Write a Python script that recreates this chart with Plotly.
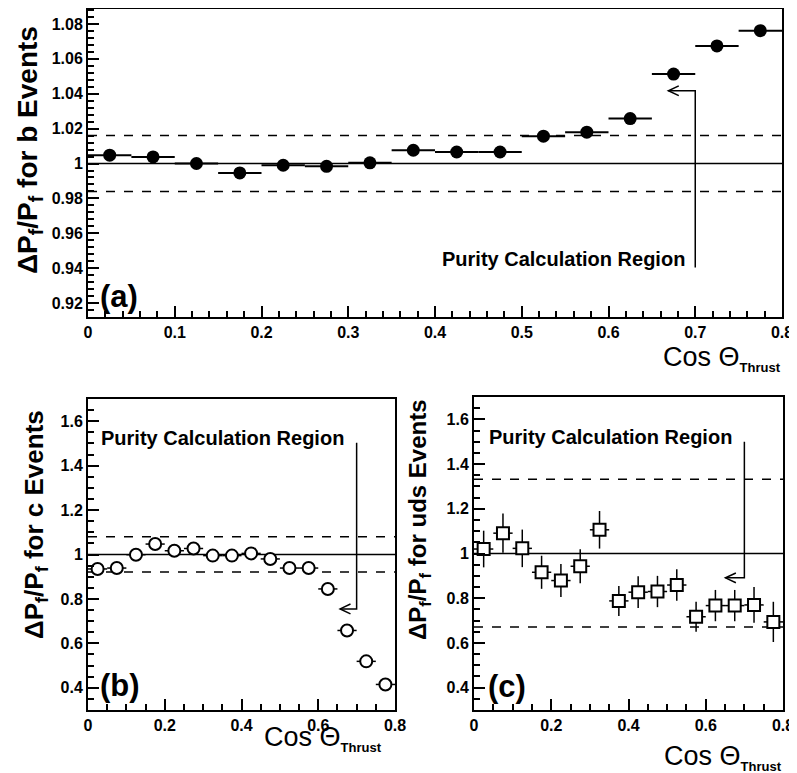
import plotly.graph_objects as go

# ---------------- data ----------------
bin_centers = [0.025, 0.075, 0.125, 0.175, 0.225, 0.275, 0.325, 0.375,
               0.425, 0.475, 0.525, 0.575, 0.625, 0.675, 0.725, 0.775]
bin_halfwidth = 0.025

b_values = [1.0048, 1.0038, 1.0000, 0.9946, 0.9990, 0.9984, 1.0004, 1.0076,
            1.0066, 1.0066, 1.0157, 1.0180, 1.0258, 1.0513, 1.0674, 1.0762]
c_values = [0.935, 0.939, 0.999, 1.047, 1.017, 1.027, 0.995, 0.995,
            1.005, 0.980, 0.939, 0.939, 0.845, 0.658, 0.519, 0.415]
uds_values = [1.020, 1.091, 1.023, 0.916, 0.879, 0.943, 1.106, 0.788,
              0.827, 0.830, 0.859, 0.717, 0.767, 0.767, 0.770, 0.694]
uds_errors = [0.082, 0.088, 0.084, 0.074, 0.074, 0.076, 0.084, 0.067,
              0.071, 0.070, 0.070, 0.067, 0.070, 0.070, 0.080, 0.090]

# reference line and +/- band per panel
ref_level = 1.0
b_band = [0.984, 1.016]
c_band = [0.921, 1.080]
uds_band = [0.671, 1.332]

# "Purity Calculation Region" arrow: x of vertical line, y start, y end, arrow tip x
b_arrow = [0.70, 0.9404, 1.0417, 0.669]
c_arrow = [0.70, 1.503, 0.755, 0.657]
uds_arrow = [0.70, 1.500, 0.891, 0.651]

a_yticks = [0.92, 0.94, 0.96, 0.98, 1.00, 1.02, 1.04, 1.06, 1.08]
a_yticktext = ["0.92", "0.94", "0.96", "0.98", "1", "1.02", "1.04", "1.06", "1.08"]
a_xticks = [0, 0.1, 0.2, 0.3, 0.4, 0.5, 0.6, 0.7, 0.8]
a_xticktext = ["0", "0.1", "0.2", "0.3", "0.4", "0.5", "0.6", "0.7", "0.8"]
bc_yticks = [0.4, 0.6, 0.8, 1.0, 1.2, 1.4, 1.6]
bc_yticktext = ["0.4", "0.6", "0.8", "1", "1.2", "1.4", "1.6"]
bc_xticks = [0, 0.2, 0.4, 0.6, 0.8]
bc_xticktext = ["0", "0.2", "0.4", "0.6", "0.8"]

W, H = 797, 773
OFF = 8  # page body margin around the figure
FONT = "Liberation Sans"

def px_x(p):
    return (p - OFF) / W

def px_y(p):
    return 1 - (p - OFF) / H

fig = go.Figure()

# panel (a): b events
fig.add_trace(go.Scatter(
    x=bin_centers, y=b_values, mode="markers",
    marker=dict(symbol="circle", size=13, color="black"),
    error_x=dict(type="constant", value=bin_halfwidth, width=0, thickness=2, color="black"),
    xaxis="x", yaxis="y", showlegend=False))

# panel (b): c events
fig.add_trace(go.Scatter(
    x=bin_centers, y=c_values, mode="markers",
    marker=dict(symbol="circle", size=12, color="white", line=dict(color="black", width=2)),
    error_x=dict(type="constant", value=bin_halfwidth, width=0, thickness=1.5, color="black"),
    xaxis="x2", yaxis="y2", showlegend=False))

# panel (c): uds events
fig.add_trace(go.Scatter(
    x=bin_centers, y=uds_values, mode="markers",
    marker=dict(symbol="square", size=12, color="white", line=dict(color="black", width=2)),
    error_x=dict(type="constant", value=bin_halfwidth, width=0, thickness=1.5, color="black"),
    error_y=dict(type="data", array=uds_errors, width=0, thickness=1.5, color="black"),
    xaxis="x3", yaxis="y3", showlegend=False))

shapes = []

def add_lines(xref, yref, band):
    shapes.append(dict(type="line", xref=xref + " domain", yref=yref, x0=0, x1=1,
                       y0=ref_level, y1=ref_level, line=dict(color="black", width=1.5), layer="below"))
    for v in band:
        shapes.append(dict(type="line", xref=xref + " domain", yref=yref, x0=0, x1=1,
                           y0=v, y1=v, line=dict(color="black", width=1.5, dash="dash"), layer="below"))

def add_arrow(xref, yref, arrow, hx, hy):
    xl, ys, ye, xt = arrow
    shapes.append(dict(type="path", xref=xref, yref=yref,
                       path=f"M {xl},{ys} L {xl},{ye} L {xt},{ye}",
                       line=dict(color="black", width=1.5)))
    shapes.append(dict(type="path", xref=xref, yref=yref,
                       path=f"M {xt+hx},{ye+hy} L {xt},{ye} L {xt+hx},{ye-hy}",
                       line=dict(color="black", width=1.5)))

add_lines("x", "y", b_band)
add_lines("x2", "y2", c_band)
add_lines("x3", "y3", uds_band)
add_arrow("x", "y", b_arrow, 0.012, 0.0028)
add_arrow("x2", "y2", c_arrow, 0.027, 0.022)
add_arrow("x3", "y3", uds_arrow, 0.027, 0.022)

annotations = []

def text(x, y, s, size, xref="paper", yref="paper", xanchor="center", yanchor="middle",
         angle=0, weight="bold"):
    annotations.append(dict(x=x, y=y, xref=xref, yref=yref, text=s, showarrow=False,
                            xanchor=xanchor, yanchor=yanchor, textangle=angle,
                            font=dict(family=FONT, size=size, color="black", weight=weight)))

# purity text
text(0.690, 0.9455, "Purity Calculation Region", 20, "x", "y", xanchor="right")
text(0.029, 1.525, "Purity Calculation Region", 20, "x2", "y2", xanchor="left")
text(0.033, 1.523, "Purity Calculation Region", 20, "x3", "y3", xanchor="left")

# panel labels
text(0.011, 0.9238, "(a)", 31, "x", "y", xanchor="left")
text(0.027, 0.412, "(b)", 31, "x2", "y2", xanchor="left")
text(0.031, 0.407, "(c)", 31, "x3", "y3", xanchor="left")

# y titles
text(px_x(29), px_y(150), "ΔP<sub>f</sub>/P<sub>f</sub> for b Events", 28, angle=-90)
text(px_x(35), px_y(525), "ΔP<sub>f</sub>/P<sub>f</sub> for c Events", 26, angle=-90)
text(px_x(419), px_y(520), "ΔP<sub>f</sub>/P<sub>f</sub> for uds Events", 24, angle=-90)

# x titles
xt = "Cos Θ<sub><span style='font-size:13px'><b>Thrust</b></span></sub>"
text(px_x(783), px_y(358), xt, 27, xanchor="right", weight="normal")
text(px_x(384), px_y(738), xt, 27, xanchor="right", weight="normal")
text(px_x(784), px_y(757), xt, 27, xanchor="right", weight="normal")

axis_common = dict(showline=True, linecolor="black", linewidth=2, mirror=True,
                   ticks="inside", ticklen=11, tickwidth=1.5, tickcolor="black",
                   showgrid=False, zeroline=False, automargin=False,
                   tickfont=dict(family=FONT, size=16, color="black", weight="bold"))

minor_common = dict(ticks="inside", ticklen=6, tickcolor="black", tickwidth=1.5)

fig.update_layout(
    width=W, height=H,
    margin=dict(l=0, r=0, t=0, b=0, autoexpand=False),
    paper_bgcolor="white", plot_bgcolor="white",
    shapes=shapes, annotations=annotations,
    xaxis=dict(domain=[px_x(88), px_x(782)], range=[0, 0.8], anchor="y",
               tickvals=a_xticks, ticktext=a_xticktext,
               minor=dict(dtick=0.02, tick0=0, **minor_common),
               **axis_common),
    yaxis=dict(domain=[px_y(317), px_y(9)], range=[0.912, 1.0886], anchor="x",
               tickvals=a_yticks, ticktext=a_yticktext,
               minor=dict(dtick=0.004, tick0=0.92, **minor_common),
               **axis_common),
    xaxis2=dict(domain=[px_x(88), px_x(395)], range=[0, 0.8], anchor="y2",
                tickvals=bc_xticks, ticktext=bc_xticktext,
                minor=dict(dtick=0.05, tick0=0, **minor_common),
                **axis_common),
    yaxis2=dict(domain=[px_y(710), px_y(399)], range=[0.3, 1.7], anchor="x2",
                tickvals=bc_yticks, ticktext=bc_yticktext,
                minor=dict(dtick=0.05, tick0=0.3, **minor_common),
                **axis_common),
    xaxis3=dict(domain=[px_x(474), px_x(783)], range=[0, 0.8], anchor="y3",
                tickvals=bc_xticks, ticktext=bc_xticktext,
                minor=dict(dtick=0.05, tick0=0, **minor_common),
                **axis_common),
    yaxis3=dict(domain=[px_y(710), px_y(397)], range=[0.3, 1.7], anchor="x3",
                tickvals=bc_yticks, ticktext=bc_yticktext,
                minor=dict(dtick=0.05, tick0=0.3, **minor_common),
                **axis_common),
)

fig.write_html("out.html")
